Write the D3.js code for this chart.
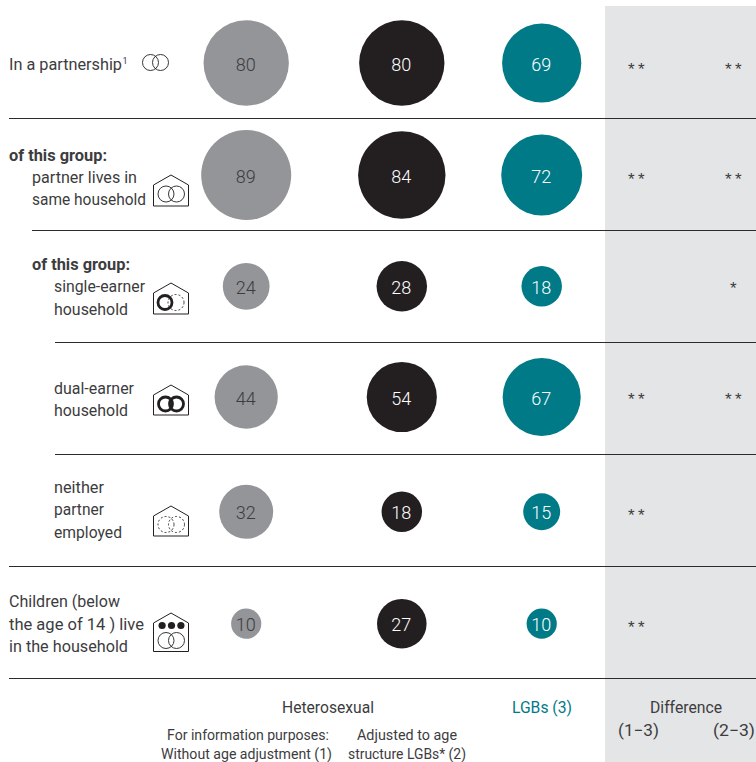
<!DOCTYPE html>
<html>
<head>
<meta charset="utf-8">
<script src="https://cdn.jsdelivr.net/npm/d3@7"></script>
<style>
html, body {margin: 0; padding: 0; background: #fff;}
svg {display: block;}
text {font-family: Roboto, sans-serif; fill: #3c3c3e;}
</style>
</head>
<body>
<div id="vis"></div>
<script>
const frame_width = 756;
const frame_height = 762;

// values, in percent
const rows = ["partnership", "same_household", "single_earner", "dual_earner", "neither", "children"];
const columns = ["without_adjustment", "adjusted", "lgb"];
const without_adjustment = [80, 89, 24, 44, 32, 10];
const adjusted = [80, 84, 28, 54, 18, 27];
const lgb = [69, 72, 18, 67, 15, 10];
const diff_1_3 = ["**", "**", "", "**", "**", "**"];
const diff_2_3 = ["**", "**", "*", "**", "", ""];

const col_colors = ["#939598", "#231f20", "#007a87"];
const col_values = [without_adjustment, adjusted, lgb];

const frame = d3.select("#vis")
    .append("svg")
        .attr("width", frame_width)
        .attr("height", frame_height);

const y_scale = d3.scaleOrdinal().domain(rows).range([63, 175, 286.3, 397, 511.8, 623.7]);
const star_y = d3.scaleOrdinal().domain(rows).range([75, 185, 294, 405, 521, 633]);
const x_scale = d3.scaleOrdinal().domain(columns).range([246.2, 401.8, 541.7]);
const r_scale = d3.scaleSqrt().domain([0, 100]).range([0, 47.7]);
const diff_x = d3.scaleOrdinal().domain(["d13", "d23"]).range([638, 735]);

// grey panel behind the difference columns
frame.append("rect")
    .attr("x", 605).attr("y", 6)
    .attr("width", 151).attr("height", 756)
    .attr("fill", "#e4e5e7");

// separators, each with its own left edge
const separators = [[118, 9], [230, 32], [342, 55], [454, 55], [566, 9], [678, 9]];
frame.selectAll(".sep")
    .data(separators)
    .enter()
    .append("line")
        .attr("class", "sep")
        .attr("x1", (d) => d[1])
        .attr("x2", frame_width)
        .attr("y1", (d) => d[0] + 0.5)
        .attr("y2", (d) => d[0] + 0.5)
        .attr("stroke", "#2b2b2d")
        .attr("stroke-width", 1.2);

// bubbles
columns.forEach((col, i) => {
    const g = frame.append("g");
    g.selectAll("circle")
        .data(col_values[i])
        .enter()
        .append("circle")
            .attr("cx", x_scale(col))
            .attr("cy", (d, j) => y_scale(rows[j]))
            .attr("r", (d) => r_scale(d))
            .attr("fill", col_colors[i]);
    g.selectAll("text")
        .data(col_values[i])
        .enter()
        .append("text")
            .attr("x", x_scale(col) - 0.5)
            .attr("y", (d, j) => y_scale(rows[j]) + 7.5)
            .attr("text-anchor", "middle")
            .attr("font-size", "18px")
            .attr("font-weight", 300)
            .style("fill", i == 0 ? "#3c3c3e" : "#fff")
            .text((d) => d);
});

// significance marks
[["d13", diff_1_3], ["d23", diff_2_3]].forEach((pair) => {
    frame.append("g").selectAll("text")
        .data(pair[1])
        .enter()
        .append("text")
            .attr("x", diff_x(pair[0]))
            .attr("y", (d, j) => star_y(rows[j]))
            .attr("text-anchor", "middle")
            .attr("font-size", "17px")
            .attr("letter-spacing", "3.5px")
            .style("font-family", "'Liberation Sans'")
            .text((d) => d);
});

// row labels: [text, x, y, bold, width]
const labels = [
    ["In a partnership", 9, 70, false, 113],
    ["of this group:", 9, 161, true, 98],
    ["partner lives in", 32, 183, false, 105],
    ["same household", 32, 205, false, 114],
    ["of this group:", 32, 270, true, 98],
    ["single-earner", 54, 292, false, 91],
    ["household", 54, 315, false, 74],
    ["dual-earner", 54, 394, false, 80],
    ["household", 54, 416, false, 74],
    ["neither", 54, 493, false, 50],
    ["partner", 54, 515, false, 50],
    ["employed", 54, 538, false, 68],
    ["Children (below", 9, 607, false, 111],
    ["the age of 14 ) live", 9, 630, false, 135],
    ["in the household", 9, 652, false, 119]
];
frame.append("g").selectAll("text")
    .data(labels)
    .enter()
    .append("text")
        .attr("x", (d) => d[1])
        .attr("y", (d) => d[2])
        .attr("font-size", "16.5px")
        .attr("font-weight", (d) => d[3] ? 700 : 400)
        .attr("textLength", (d) => d[4])
        .attr("lengthAdjust", "spacingAndGlyphs")
        .text((d) => d[0]);
frame.append("text").attr("x", 122.5).attr("y", 64).attr("font-size", "9px").text("1");

// bottom headers: [text, x, y, size, colour, width]
const headers = [
    ["Heterosexual", 328, 713, 16.5, "#3c3c3e", 92],
    ["LGBs (3)", 542, 713, 16.5, "#007a87", 60],
    ["Difference", 686, 713, 16.5, "#3c3c3e", 72],
    ["(1\u22123)", 638.5, 736, 16.5, "#3c3c3e", 41],
    ["(2\u22123)", 734, 736, 16.5, "#3c3c3e", 42],
    ["For information purposes:", 248, 740, 14.5, "#3c3c3e", 162],
    ["Without age adjustment (1)", 246.5, 759, 14.5, "#3c3c3e", 171],
    ["Adjusted to age", 407, 740, 14.5, "#3c3c3e", 100],
    ["structure LGBs* (2)", 407, 759, 14.5, "#3c3c3e", 118]
];
frame.append("g").selectAll("text")
    .data(headers)
    .enter()
    .append("text")
        .attr("x", (d) => d[1])
        .attr("y", (d) => d[2])
        .attr("text-anchor", "middle")
        .attr("font-size", (d) => d[3] + "px")
        .attr("textLength", (d) => d[5])
        .attr("lengthAdjust", "spacingAndGlyphs")
        .style("fill", (d) => d[4])
        .text((d) => d[0]);

// icons
function ring(g, cx, cy, r, kind) {
    g.append("circle")
        .attr("cx", cx)
        .attr("cy", cy)
        .attr("r", r)
        .attr("fill", "none")
        .attr("stroke", "#231f20")
        .attr("stroke-width", kind == "thick" ? 2.8 : 0.9)
        .attr("stroke-dasharray", kind == "dash" ? "2,2" : null);
}
function house(cx, top, h) {
    const g = frame.append("g");
    const w = 17.5, roof = 10;
    g.append("path")
        .attr("d", d3.line()([[cx - w, top + h], [cx - w, top + roof], [cx, top], [cx + w, top + roof], [cx + w, top + h]]) + "Z")
        .attr("fill", "none")
        .attr("stroke", "#231f20")
        .attr("stroke-width", 1);
    return g;
}
const plain = frame.append("g");
ring(plain, 150.5, 62.5, 8, "thin");
ring(plain, 160.5, 62.5, 8, "thin");

const together = house(171, 175, 31);
ring(together, 166, 194, 8, "thin");
ring(together, 176.5, 194, 8, "thin");

const single = house(171, 283, 31);
ring(single, 176, 302.5, 8, "dash");
ring(single, 165, 302.5, 7, "thick");

const dual = house(171, 385, 30);
ring(dual, 165.5, 404, 7, "thick");
ring(dual, 176.5, 404, 7, "thick");

const neither = house(171, 506, 30);
ring(neither, 166, 524.5, 8, "dash");
ring(neither, 176.5, 524.5, 8, "dash");

const kids = house(171, 613, 38.5);
ring(kids, 166, 640.5, 8, "thin");
ring(kids, 176.5, 640.5, 8, "thin");
kids.selectAll(".kid")
    .data([-1, 0, 1])
    .enter()
    .append("circle")
        .attr("cx", (d) => 171.5 + d * 9.4)
        .attr("cy", 625.5)
        .attr("r", 3.6)
        .attr("fill", "#231f20");
</script>
</body>
</html>
